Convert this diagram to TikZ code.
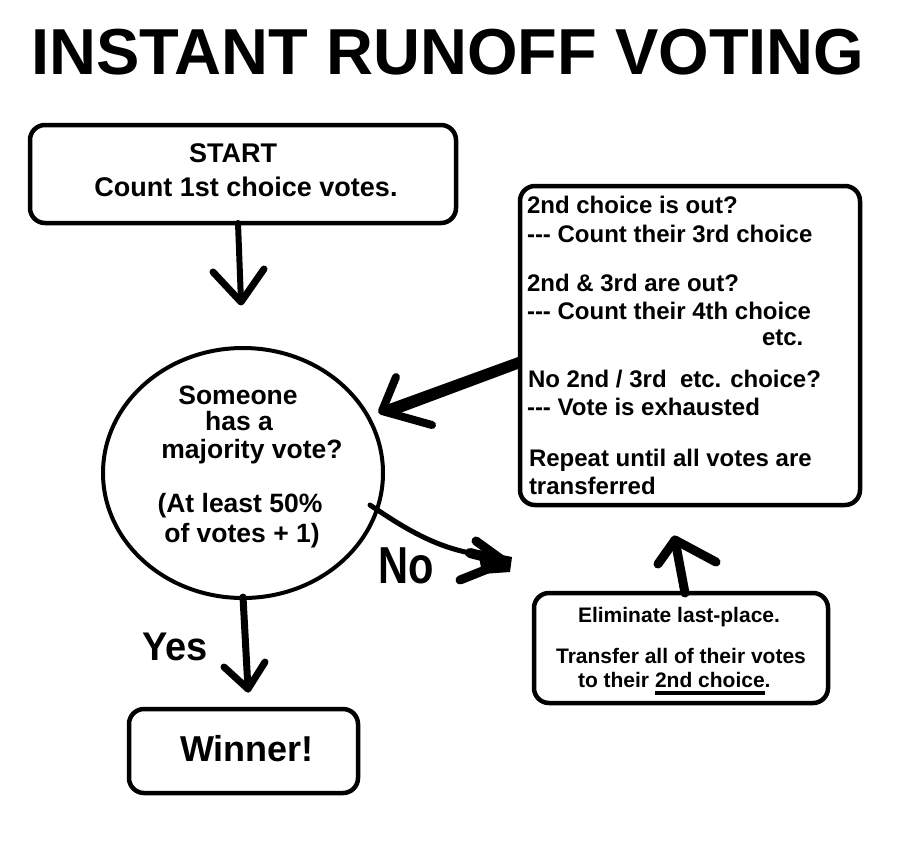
\documentclass[tikz,border=0pt]{standalone}
\usepackage{fontspec}
\setmainfont{Liberation Sans}
\usetikzlibrary{shapes.geometric}
\tikzset{
  box/.style={draw, line width=4.5pt, rounded corners=15pt, inner sep=0pt, outer sep=0pt},
  txt/.style={inner sep=0pt, outer sep=0pt, font=\bfseries},
  hand/.style={line width=#1, line cap=round, line join=round},
}
\newcommand{\fs}[1]{\fontsize{#1}{#1}\selectfont}
\newcommand{\dsh}{-{}-{}-}
\begin{document}
\begin{tikzpicture}[x=1pt,y=-1pt]
\useasboundingbox (0,0) rectangle (904,844);
\fill[white] (0,0) rectangle (904,844);
% title
\node[txt, anchor=base] (title) at (448,74) {\fs{65}INSTANT RUNOFF VOTING};
% boxes
\node[box, minimum width=426pt, minimum height=98pt] (start) at (243,174) {};
\node[box, minimum width=340pt, minimum height=319pt] (rbox) at (690,345.5) {};
\node[box, minimum width=294pt, minimum height=110pt] (elim) at (681,648) {};
\node[box, minimum width=229pt, minimum height=84pt] (win) at (243.5,751) {};
\node[draw, ellipse, line width=4pt, minimum width=280pt, minimum height=250pt, inner sep=0pt] (q) at (243,473) {};
% start text
\node[txt, anchor=base] (t1) at (233,162) {\fs{27}START};
\node[txt, anchor=base] (t2) at (246,196) {\fs{27}Count 1st choice votes.};
% circle text
\node[txt, anchor=base] (c1) at (238,404) {\fs{26.5}Someone};
\node[txt, anchor=base] (c2) at (239,430) {\fs{26.5}has a};
\node[txt, anchor=base] (c3) at (252,458) {\fs{26.5}majority vote?};
\node[txt, anchor=base] (c4) at (240,512) {\fs{26.5}(At least 50\%};
\node[txt, anchor=base] (c5) at (242,542) {\fs{26.5}of votes + 1)};
% right box text
\node[txt, anchor=base west] (r1) at (527,213) {\fs{24}2nd choice is out?};
\node[txt, anchor=base west] (r2) at (527,242) {\fs{24}\dsh{} Count their 3rd choice};
\node[txt, anchor=base west] (r3) at (527,291) {\fs{24}2nd \& 3rd are out?};
\node[txt, anchor=base west] (r4) at (527,319) {\fs{24}\dsh{} Count their 4th choice};
\node[txt, anchor=base west] (r5) at (762,345) {\fs{24}etc.};
\node[txt, anchor=base west] (r6) at (528,387) {\fs{24}No 2nd / 3rd \ etc. choice?};
\node[txt, anchor=base west] (r7) at (527,415) {\fs{24}\dsh{} Vote is exhausted};
\node[txt, anchor=base west] (r8) at (529,466) {\fs{24}Repeat until all votes are};
\node[txt, anchor=base west] (r9) at (529,494) {\fs{24}transferred};
% eliminate text
\node[txt, anchor=base] (e1) at (679,622) {\fs{21}Eliminate last-place.};
\node[txt, anchor=base] (e2) at (681,663) {\fs{21}Transfer all of their votes};
\node[txt, anchor=base west] (e3) at (578,687) {\fs{21}to their\kern0.278em};
\node[txt, anchor=base west] (e4) at (e3.base east) {\fs{21}2nd choice};
\node[txt, anchor=base west] (e5) at (e4.base east) {\fs{21}.};
\draw[line width=3.5pt] ([yshift=-6pt]e4.base west) -- ([yshift=-6pt]e4.base east);
% winner
\node[txt, anchor=base west] (w) at (180,761) {\fs{36}Winner!};
% labels
\node[txt, anchor=base west] (no) at (378,583) {\fs{52}\scalebox{0.8}[1]{No}};
\node[txt, anchor=base west] (yes) at (142,660) {\fs{40}\scalebox{0.95}[1]{Yes}};
% arrow 1: start -> question
\coordinate (a1tip) at (241,302);
\coordinate (a1l) at (213,272);
\coordinate (a1r) at (264,269);
\draw[hand=6pt] (start.south -| 238,0) -- (a1tip);
\draw[hand=7pt] (a1l) -- (a1tip) -- (a1r);
% arrow 2: right box -> question
\coordinate (a2tail) at (518,364);
\coordinate (a2tip) at (382,411);
\coordinate (a2u) at (396,377);
\coordinate (a2d) at (432,425);
\fill (518,357) -- (518,369) -- (392,416) -- (386,405) -- cycle;
\draw[hand=8pt] (a2u) -- (a2tip) -- (a2d);
% arrow 3: question -> elim (No)
\coordinate (a3tail) at (370,505);
\coordinate (a3tip) at (505,562);
\coordinate (a3u) at (476,541);
\coordinate (a3d) at (460,580);
\draw[hand=5pt] (a3tail) .. controls (400,525) and (430,545) .. (470,553);
\draw[hand=10pt] (470,553) -- (a3tip);
\draw[hand=9pt] (a3u) -- (a3tip) -- (a3d);
\fill (478,550) -- (512,557) -- (510,572) -- (482,574) -- cycle;
% arrow 4: question -> winner (Yes)
\coordinate (a4tail) at (243,597);
\coordinate (a4tip) at (248,689);
\coordinate (a4l) at (224,667);
\coordinate (a4r) at (265,662);
\draw[hand=7pt] (a4tail) -- (a4tip);
\draw[hand=7pt] (a4l) -- (a4tip) -- (a4r);
% arrow 5: elim -> right box
\coordinate (a5tip) at (675,540);
\coordinate (a5l) at (658,564);
\coordinate (a5r) at (716,562);
\draw[hand=9pt] (elim.north -| 685,0) -- (a5tip);
\draw[hand=9pt] (a5l) -- (a5tip) -- (a5r);
\end{tikzpicture}
\end{document}
